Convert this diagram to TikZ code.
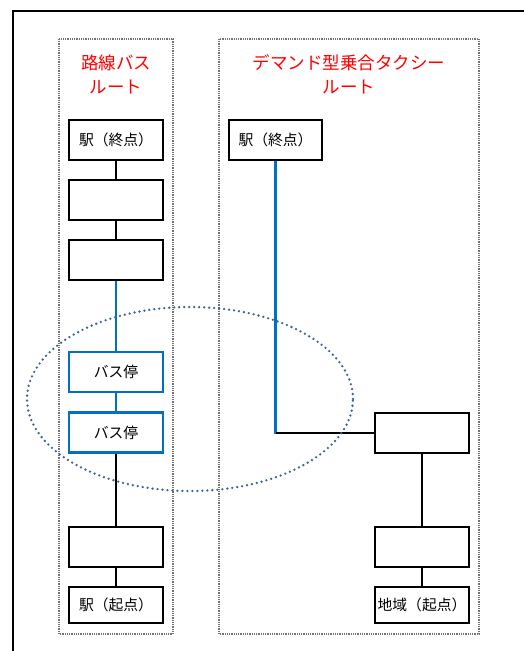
\documentclass[tikz,border=0pt]{standalone}
\usepackage{fontspec}
\setmainfont{Noto Sans CJK JP}
\usetikzlibrary{positioning}
\definecolor{lineblue}{RGB}{0,112,192}
\definecolor{ovalblue}{RGB}{62,100,148}
\tikzset{
	routebox/.style={draw, line width=2.4pt, minimum width=94pt, minimum height=40pt, inner sep=0pt, font=\fontsize{14.8}{16}\selectfont},
	busbox/.style={routebox, draw=lineblue},
	panel/.style={draw=black!55, line width=1.8pt, dash pattern=on 1pt off 0.8pt},
	titletext/.style={text=red, align=center, font=\fontsize{17.5}{24}\selectfont},
	link/.style={line width=2.4pt},
	bluelink/.style={line width=2.6pt, color=lineblue}
}

\begin{document}
\begin{tikzpicture}[x=1pt, y=-1pt]
			%%%%% START %%%%%
			\useasboundingbox (0, 0) rectangle (524, 651);
			
			\draw[line width=2.8pt] (13, 651) -- (13, 11) -- (524, 11);
			
			\draw[panel] (59, 39) rectangle (173, 634);
			\draw[panel] (219, 39) rectangle (479, 634);
			
			\node[titletext] (ltitle) at (116, 74) {路線バス\\ルート};
			\node[titletext] (rtitle) at (349, 74) {デマンド型乗合タクシー\\ルート};
			
			\node[routebox] (lend) at (116, 140) {駅（終点）};
			\node[routebox] (lmidA) at (116, 200) {};
			\node[routebox] (lmidB) at (116, 260) {};
			\node[busbox] (lbusA) at (116, 372) {バス停};
			\node[busbox] (lbusB) at (116, 432.5) {バス停};
			\node[routebox] (lmidC) at (116, 547) {};
			\node[routebox, minimum height=36pt] (lstart) at (116, 605) {駅（起点）};
			
			\node[routebox, minimum width=93pt] (rend) at (275.5, 140) {駅（終点）};
			\node[routebox] (rmidA) at (422, 433) {};
			\node[routebox] (rmidB) at (422, 547) {};
			\node[routebox, minimum height=36pt] (rstart) at (422, 605) {地域（起点）};
			
			\draw[link] (lend) -- (lmidA);
			\draw[link] (lmidA) -- (lmidB);
			\draw[bluelink] (lmidB) -- (lbusA);
			\draw[bluelink] (lbusA) -- (lbusB);
			\draw[link] (lbusB) -- (lmidC);
			\draw[link] (lmidC) -- (lstart);
			
			\coordinate (turn) at (rend.south |- rmidA.west);
			\draw[bluelink] (rend.south) -- ([yshift=-1pt]turn);
			\draw[link] (turn) -- (rmidA.west);
			\draw[link] (rmidA) -- (rmidB);
			\draw[link] (rmidB) -- (rstart);
			
			\draw[ovalblue, line width=2.6pt, dash pattern=on 0pt off 5pt, line cap=round] (190, 399) ellipse [x radius=163pt, y radius=92pt];
			
			%%%%% END %%%%%
\end{tikzpicture}
\end{document}
